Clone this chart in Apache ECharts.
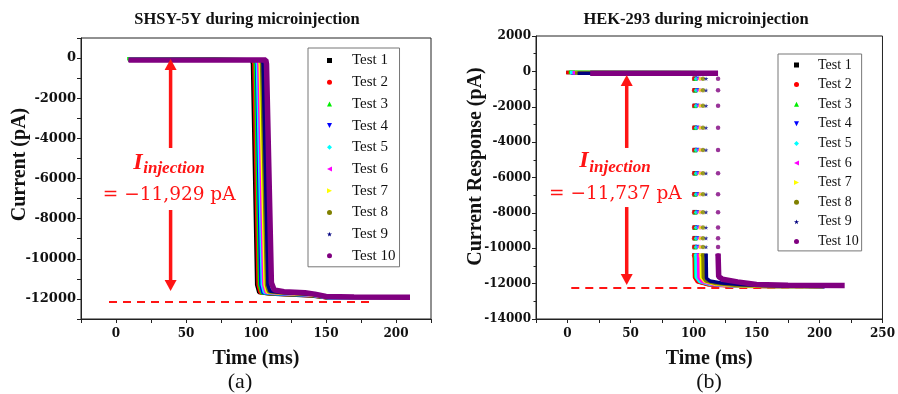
<!DOCTYPE html>
<html>
<head>
<meta charset="utf-8">
<script src="https://cdn.jsdelivr.net/npm/echarts@6/dist/echarts.min.js"></script>
<style>
  html, body { margin: 0; padding: 0; background: #fff; }
  #chart { width: 898px; height: 394px; }
</style>
</head>
<body>
<div id="chart"></div>
<script>
// legend names, colours and marker shapes
const testNames = ['Test 1', 'Test 2', 'Test 3', 'Test 4', 'Test 5', 'Test 6', 'Test 7', 'Test 8', 'Test 9', 'Test 10'];
const testColors = ['#000000', '#ff0000', '#00ee00', '#0000ff', '#00ffff', '#ff00ff', '#ffff00', '#808000', '#000080', '#800080'];
const testIcons = [
  'rect', 'circle', 'triangle', 'path://M0,0L10,0L5,10Z', 'diamond',
  'path://M10,0L10,10L0,5Z', 'path://M0,0L0,10L10,5Z', 'circle',
  'path://M5,0L6.2,3.6L10,3.6L6.9,5.9L8.1,9.5L5,7.3L1.9,9.5L3.1,5.9L0,3.6L3.8,3.6Z', 'circle'
];

// (a) SHSY-5Y : [time ms, current pA]
const shsy1 = [[9, -80], [97, -90], [97.5, -300], [100.5, -11300], [102, -11680], [110, -11760], [140, -11850], [152, -11960], [205, -11970]];
const shsy2 = [[9, -85], [98, -95], [98.5, -300], [101.5, -11300], [103, -11690], [112, -11760], [140, -11840], [152, -11950], [204, -11960]];
const shsy3 = [[8, -30], [70, -40], [99, -90], [99.5, -300], [102.5, -11300], [104, -11700], [114, -11750], [140, -11830], [152, -11960], [206, -11960]];
const shsy4 = [[9, -90], [100, -95], [100.5, -300], [103.5, -11300], [105, -11690], [114, -11740], [140, -11820], [152, -11940], [205, -11950]];
const shsy5 = [[9, -60], [100.5, -80], [101, -300], [104.5, -11300], [106, -11680], [115, -11730], [140, -11810], [152, -11940], [205, -11950]];
const shsy6 = [[9, -90], [101.5, -90], [102, -300], [105.5, -11300], [107, -11670], [116, -11720], [140, -11800], [152, -11930], [205, -11940]];
const shsy7 = [[9, -80], [102.5, -90], [103, -300], [106.5, -11300], [108, -11650], [117, -11700], [140, -11790], [152, -11920], [205, -11930]];
const shsy8 = [[9, -90], [103.5, -90], [104, -300], [107.5, -11300], [109, -11640], [117, -11690], [140, -11780], [152, -11920], [205, -11930]];
const shsy9 = [[9, -90], [104.5, -90], [105, -300], [108.5, -11300], [110, -11620], [118, -11680], [140, -11770], [152, -11910], [205, -11920]];
const shsy10 = [[9, -100], [107, -100], [107.5, -300], [111, -11200], [113, -11550], [120, -11640], [135, -11690], [142, -11760], [150, -11880], [170, -11910], [210, -11920]];
const shsyTests = [shsy1, shsy2, shsy3, shsy4, shsy5, shsy6, shsy7, shsy8, shsy9, shsy10];

// (b) HEK-293 : flat baseline, gap, then settled tail
const hek1 = [[-1, -60], [101, -80], [101, '-'], [101, -10300], [101.3, -11650], [104, -11900], [112, -12050], [130, -12120], [160, -12150], [204, -12160]];
const hek2 = [[-1, -70], [100.5, -90], [100.5, '-'], [100.5, -10300], [100.8, -11650], [103, -11900], [111, -12060], [130, -12140], [160, -12180], [203, -12180]];
const hek3 = [[1, -50], [101.5, -70], [101.5, '-'], [101.5, -10300], [101.8, -11600], [105, -11850], [113, -12000], [130, -12080], [160, -12100], [190, -12110]];
const hek4 = [[3, -90], [103, -100], [103, '-'], [103, -10300], [103.3, -11650], [106, -11880], [114, -12030], [130, -12110], [160, -12150], [204, -12170]];
const hek5 = [[2, -60], [102, -80], [102, '-'], [102, -10300], [102.3, -11650], [105, -11880], [113, -12040], [130, -12120], [160, -12160], [203, -12170]];
const hek6 = [[4, -80], [104, -90], [104, '-'], [104, -10300], [104.3, -11650], [107, -11880], [115, -12030], [130, -12110], [160, -12150], [203, -12160]];
const hek7 = [[6, -70], [106, -80], [106, '-'], [106, -10300], [106.3, -11650], [109, -11870], [117, -12020], [135, -12120], [160, -12160], [203, -12180]];
const hek8 = [[6, -90], [107.5, -90], [107.5, '-'], [107.5, -10300], [107.8, -11650], [110, -11860], [118, -12000], [135, -12100], [160, -12140], [203, -12160]];
const hek9 = [[8, -100], [110, -110], [110, '-'], [110, -10300], [110.3, -11700], [113, -11850], [122, -11960], [140, -12060], [170, -12130], [203, -12160]];
const hek10 = [[18, -100], [119.5, -110], [119.5, '-'], [119.5, -10300], [120, -11600], [123, -11750], [135, -11900], [150, -12050], [175, -12090], [220, -12100]];
const hekTests = [hek1, hek2, hek3, hek4, hek5, hek6, hek7, hek8, hek9, hek10];
// sparse samples during the fast drop
const hekDropLevels = [-410, -1070, -1950, -3190, -4450, -5760, -6950, -7960, -8830, -9430, -9930, -10400];
const hekDropX = [101, 100.5, 101.5, 103, 102, 104, 106, 107.5, 110, 119.5];

// annotation anchors (data units)
const annotA = { x: 39, upTip: -50, upTail: -4480, downTail: -7570, downTip: -11600, textX: 38, textY: -5350, eqY: -6820, dashY: -12150, dashFrom: -5, dashTo: 183, label: '= \u221211,929 pA' };
const annotB = { x: 47, upTip: -205, upTail: -4330, downTail: -7670, downTip: -12080, textX: 38, textY: -5250, eqY: -6930, dashY: -12230, dashFrom: 3, dashTo: 199, label: '= \u221211,737 pA' };

const serif = 'Liberation Serif';
const tickFont = 'DejaVu Serif';
const red = '#ff1414';

const chart = echarts.init(document.getElementById('chart'));

const legendData = testNames.map((n, i) => ({ name: n, icon: testIcons[i] }));

const series = [];
shsyTests.forEach((pts, i) => {
  series.push({
    name: testNames[i], type: 'line', xAxisIndex: 0, yAxisIndex: 0,
    data: pts, symbol: 'none', color: testColors[i],
    lineStyle: { width: i === 9 ? 5.5 : 3.5 }, z: 2 + i
  });
});
hekTests.forEach((pts, i) => {
  series.push({
    name: testNames[i], type: 'line', xAxisIndex: 1, yAxisIndex: 1,
    data: pts, symbol: 'none', color: testColors[i], connectNulls: false,
    lineStyle: { width: i === 9 ? 5.5 : 3.5 }, z: 2 + i
  });
});
hekDropX.forEach((x, i) => {
  series.push({
    name: testNames[i], type: 'scatter', xAxisIndex: 1, yAxisIndex: 1,
    data: hekDropLevels.map(y => [x, y]), symbol: testIcons[i], symbolSize: 4.5,
    color: testColors[i], z: 2 + i
  });
});
// dashed reference lines
series.push({
  type: 'line', xAxisIndex: 0, yAxisIndex: 0, data: [], silent: true,
  markLine: {
    symbol: 'none', silent: true, label: { show: false },
    lineStyle: { color: red, width: 2, type: [8, 6] },
    data: [[{ coord: [annotA.dashFrom, annotA.dashY] }, { coord: [annotA.dashTo, annotA.dashY] }]]
  }
});
series.push({
  type: 'line', xAxisIndex: 1, yAxisIndex: 1, data: [], silent: true,
  markLine: {
    symbol: 'none', silent: true, label: { show: false },
    lineStyle: { color: red, width: 2, type: [8, 6] },
    data: [[{ coord: [annotB.dashFrom, annotB.dashY] }, { coord: [annotB.dashTo, annotB.dashY] }]]
  }
});

function axisCommon() {
  return {
    axisLine: { show: true, onZero: false, lineStyle: { color: '#222', width: 1 } },
    axisTick: { show: true, inside: false, length: 4, lineStyle: { color: '#222' } },
    splitLine: { show: false },
    nameMoveOverlap: false
  };
}

const option = {
  animation: false,
  backgroundColor: '#fff',
  title: [
    { text: 'SHSY-5Y during microinjection', left: 247, top: 11, padding: 0, textAlign: 'center',
      textStyle: { fontFamily: serif, fontSize: 16.5, fontWeight: 'bold', color: '#111' } },
    { text: 'HEK-293 during microinjection', left: 696, top: 11, padding: 0, textAlign: 'center',
      textStyle: { fontFamily: serif, fontSize: 16.5, fontWeight: 'bold', color: '#111' } },
    { text: '(a)', left: 240, top: 371, padding: 0, textAlign: 'center',
      textStyle: { fontFamily: serif, fontSize: 22, fontWeight: 'normal', color: '#111' } },
    { text: '(b)', left: 709, top: 371, padding: 0, textAlign: 'center',
      textStyle: { fontFamily: serif, fontSize: 22, fontWeight: 'normal', color: '#111' } }
  ],
  grid: [
    { left: 81, top: 38, width: 350, height: 281, show: true, borderColor: '#222', borderWidth: 1, containLabel: false },
    { left: 536, top: 36, width: 351, height: 283, show: true, borderColor: '#222', borderWidth: 1, containLabel: false }
  ],
  xAxis: [
    Object.assign(axisCommon(), {
      type: 'value', gridIndex: 0, min: -25, max: 225, interval: 25,
      name: 'Time (ms)', nameLocation: 'middle', nameGap: 30,
      nameTextStyle: { fontFamily: serif, fontSize: 20, fontWeight: 'bold', color: '#111' },
      axisLabel: { fontFamily: tickFont, fontSize: 12, fontWeight: 'bold', color: '#111', margin: 9,
        formatter: v => (v % 50 === 0 ? String(v) : '') }
    }),
    Object.assign(axisCommon(), {
      type: 'value', gridIndex: 1, min: -25, max: 250, interval: 25,
      name: 'Time (ms)', nameLocation: 'middle', nameGap: 30,
      nameTextStyle: { fontFamily: serif, fontSize: 20, fontWeight: 'bold', color: '#111' },
      axisLabel: { fontFamily: tickFont, fontSize: 12, fontWeight: 'bold', color: '#111', margin: 9,
        formatter: v => (v % 50 === 0 ? String(v) : '') }
    })
  ],
  yAxis: [
    Object.assign(axisCommon(), {
      type: 'value', gridIndex: 0, min: -13000, max: 1000, interval: 1000,
      name: 'Current (pA)', nameLocation: 'middle', nameGap: 51, nameRotate: 90,
      nameTextStyle: { fontFamily: serif, fontSize: 20, fontWeight: 'bold', color: '#111', padding: [0, 0, 0, 28] },
      axisLabel: { fontFamily: tickFont, fontSize: 13, fontWeight: 'bold', color: '#111', margin: 5,
        formatter: v => (v % 2000 === 0 && v <= 0 ? String(v) : '') }
    }),
    Object.assign(axisCommon(), {
      type: 'value', gridIndex: 1, min: -14000, max: 2000, interval: 2000,
      minorTick: { show: true, splitNumber: 2, length: 2.5, lineStyle: { color: '#222' } },
      name: 'Current Response (pA)', nameLocation: 'middle', nameGap: 50, nameRotate: 90,
      nameTextStyle: { fontFamily: serif, fontSize: 20, fontWeight: 'bold', color: '#111', padding: [0, 0, 0, 22] },
      axisLabel: { fontFamily: tickFont, fontSize: 12, fontWeight: 'bold', color: '#111', margin: 5,
        formatter: v => String(v) }
    })
  ],
  legend: [
    { orient: 'vertical', left: 308, top: 48, data: legendData, selectedMode: false,
      itemWidth: 5, itemHeight: 5, itemGap: 5.7, padding: [4.5, 4, 3, 19],
      borderColor: '#777', borderWidth: 1,
      textStyle: { fontFamily: serif, fontSize: 15, color: '#111', lineHeight: 16, padding: [0, 0, 0, 15] } },
    { orient: 'vertical', left: 778, top: 54, data: legendData, selectedMode: false,
      itemWidth: 5, itemHeight: 5, itemGap: 4.6, padding: [3.5, 3, 2, 16],
      borderColor: '#777', borderWidth: 1,
      textStyle: { fontFamily: serif, fontSize: 14, color: '#111', lineHeight: 15, padding: [0, 0, 0, 14] } }
  ],
  series: series
};

chart.setOption(option);

// arrows and I_injection labels, placed from data coordinates
function annotations(a, gridIndex) {
  const px = p => chart.convertToPixel({ gridIndex: gridIndex }, p);
  const upTip = px([a.x, a.upTip]);
  const upTail = px([a.x, a.upTail]);
  const downTail = px([a.x, a.downTail]);
  const downTip = px([a.x, a.downTip]);
  const txt = px([a.textX, a.textY]);
  const eq = px([a.textX, a.eqY]);
  const head = 11;
  const half = 6;
  return [
    { type: 'line', shape: { x1: upTail[0], y1: upTail[1], x2: upTip[0], y2: upTip[1] + head - 1 },
      style: { stroke: red, lineWidth: 3.5 }, z: 50 },
    { type: 'polygon', shape: { points: [[upTip[0], upTip[1]], [upTip[0] - half, upTip[1] + head], [upTip[0] + half, upTip[1] + head]] },
      style: { fill: red }, z: 50 },
    { type: 'line', shape: { x1: downTail[0], y1: downTail[1], x2: downTip[0], y2: downTip[1] - head + 1 },
      style: { stroke: red, lineWidth: 3.5 }, z: 50 },
    { type: 'polygon', shape: { points: [[downTip[0], downTip[1]], [downTip[0] - half, downTip[1] - head], [downTip[0] + half, downTip[1] - head]] },
      style: { fill: red }, z: 50 },
    { type: 'text', x: txt[0] - 36, y: txt[1] - 3, z: 50,
      style: { text: 'I', fill: red, font: 'italic bold 24px "Liberation Serif"', align: 'left', verticalAlign: 'middle' } },
    { type: 'text', x: txt[0] - 26, y: txt[1] + 3, z: 50,
      style: { text: 'injection', fill: red, font: 'italic bold 17px "Liberation Serif"', align: 'left', verticalAlign: 'middle' } },
    { type: 'text', x: eq[0], y: eq[1], z: 50,
      style: { text: a.label, fill: red, font: '18.5px "DejaVu Serif"', align: 'center', verticalAlign: 'middle' } }
  ];
}

chart.setOption({ graphic: annotations(annotA, 0).concat(annotations(annotB, 1)) });
</script>
</body>
</html>
